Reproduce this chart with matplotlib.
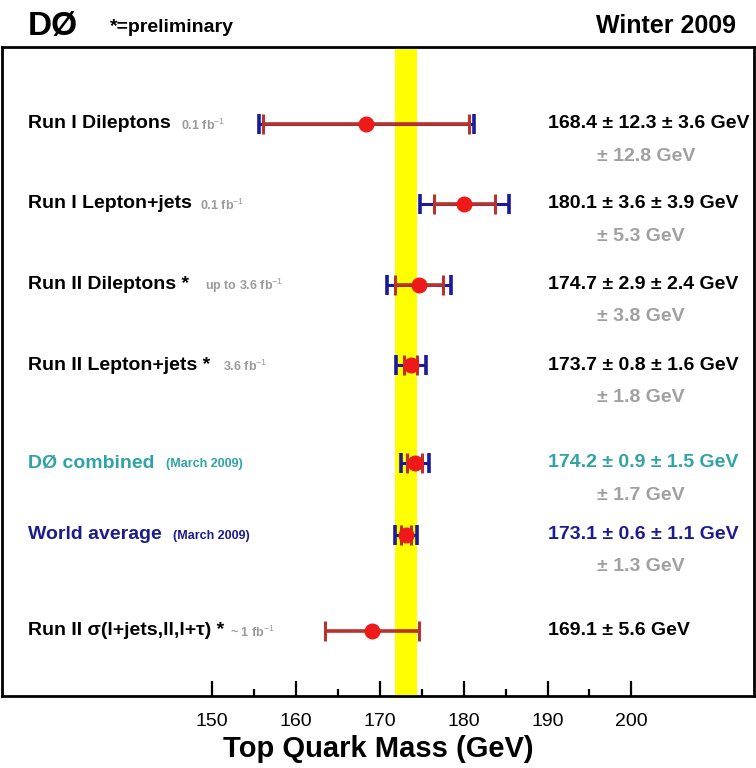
import matplotlib
matplotlib.use("Agg")
import matplotlib.pyplot as plt
import matplotlib.transforms as mtransforms
import numpy as np

plt.rcParams['font.family'] = ['Liberation Sans Narrow', 'Liberation Sans', 'DejaVu Sans']
plt.rcParams['mathtext.fontset'] = 'custom'
plt.rcParams['mathtext.rm'] = 'Liberation Sans'
plt.rcParams['mathtext.bf'] = 'Liberation Sans:bold'

# ---------------- data ----------------
labels = ["Run I Dileptons", "Run I Lepton+jets", "Run II Dileptons *",
          "Run II Lepton+jets *", "DØ combined", "World average",
          "Run II σ(l+jets,ll,l+τ) *"]
sublabels = ["0.1 fb$^{-1}$", "0.1 fb$^{-1}$", "up to 3.6 fb$^{-1}$", "3.6 fb$^{-1}$",
             "(March 2009)", "(March 2009)", "~ 1 fb$^{-1}$"]
mass = [168.4, 180.1, 174.7, 173.7, 174.2, 173.1, 169.1]
stat = [12.3, 3.6, 2.9, 0.8, 0.9, 0.6, 5.6]
syst = [3.6, 3.9, 2.4, 1.6, 1.5, 1.1, None]
total = [12.8, 5.3, 3.8, 1.8, 1.7, 1.3, None]
world_avg = 173.1
world_err = 1.3
xticks = [150, 160, 170, 180, 190, 200]

# ---------------- style / layout ----------------
row_y = [1.0, 1.99, 2.99, 3.99, 5.2, 6.09, 7.28]
label_colors = ["black", "black", "black", "black", "#2fa3a6", "#1c1c8f", "black"]
sub_colors = ["#9a9a9a"] * 4 + ["#2fa3a6", "#1c1c8f", "#9a9a9a"]
sub_gap = [10, 8, 16, 13, 12, 11, 6]
RED_LINE = "#b8322e"
RED_DOT = "#ee1a1a"
BLUE = "#1a1a9a"
GRAY = "#a0a0a0"

fig = plt.figure(figsize=(7.56, 7.68), dpi=100)
ax = fig.add_axes([2 / 756, 1 - 696 / 768, 752 / 756, 649 / 768])
ax.set_xlim(125.0, 214.6)
ax.set_ylim(8.09, 0.046)
tr = mtransforms.blended_transform_factory(fig.transFigure, ax.transData)

# yellow band
ax.axvspan(world_avg - world_err, world_avg + world_err, color="#ffff00", zorder=0, lw=0)

for i in range(len(mass)):
    y = row_y[i]
    if total[i] is not None:
        ax.errorbar(mass[i], y, xerr=total[i], fmt='none', ecolor=BLUE,
                    elinewidth=2.2, capsize=7, capthick=2.6, zorder=2)
    ax.errorbar(mass[i], y, xerr=stat[i], fmt='none', ecolor=RED_LINE,
                elinewidth=2.6, capsize=7, capthick=2.2, zorder=3)
    ax.plot(mass[i], y, 'o', color=RED_DOT, ms=10.5, mec=RED_DOT, zorder=4)

    # left labels
    t = ax.text(28 / 756, y, labels[i], transform=tr,
                fontsize=14, fontweight='bold', color=label_colors[i],
                va='center', ha='left')
    ax.annotate(sublabels[i], xy=(1, 0.42), xycoords=t, xytext=(sub_gap[i] * 0.72, 0),
                textcoords='offset points', fontsize=9, fontweight='bold',
                color=sub_colors[i], va='center', ha='left')

    # right values
    if syst[i] is not None:
        vtxt = f"{mass[i]:.1f} ± {stat[i]:.1f} ± {syst[i]:.1f} GeV"
    else:
        vtxt = f"{mass[i]:.1f} ± {stat[i]:.1f} GeV"
    ax.text(548 / 756, y, vtxt, transform=tr, fontsize=14, fontweight='bold',
            color=label_colors[i], va='center', ha='left')
    if total[i] is not None:
        ax.text(597 / 756, y + 0.4, f"± {total[i]:.1f} GeV", transform=tr,
                fontsize=14, fontweight='bold', color=GRAY, va='center', ha='left')

# axes styling
ax.set_xticks(xticks)
ax.set_xticks(np.arange(155, 200, 10), minor=True)
ax.set_xticklabels([str(v) for v in xticks], fontsize=14)
ax.tick_params(axis='x', which='major', direction='in', length=11, width=1.6, pad=12)
ax.tick_params(axis='x', which='minor', direction='in', length=5, width=1.6)
ax.set_yticks([])
for s in ax.spines.values():
    s.set_linewidth(2.0)
ax.set_xlabel("Top Quark Mass (GeV)", fontsize=21, fontweight='bold', labelpad=4)

# header
fig.text(28 / 756, 1 - 26 / 768, "DØ", fontsize=24, fontweight='bold', va='center', ha='left')
fig.text(110 / 756, 1 - 28 / 768, "*=preliminary", fontsize=14, fontweight='bold', va='center', ha='left')
fig.text(736 / 756, 1 - 26 / 768, "Winter 2009", fontsize=18, fontweight='bold', va='center', ha='right')

fig.savefig("out.png", dpi=100)
